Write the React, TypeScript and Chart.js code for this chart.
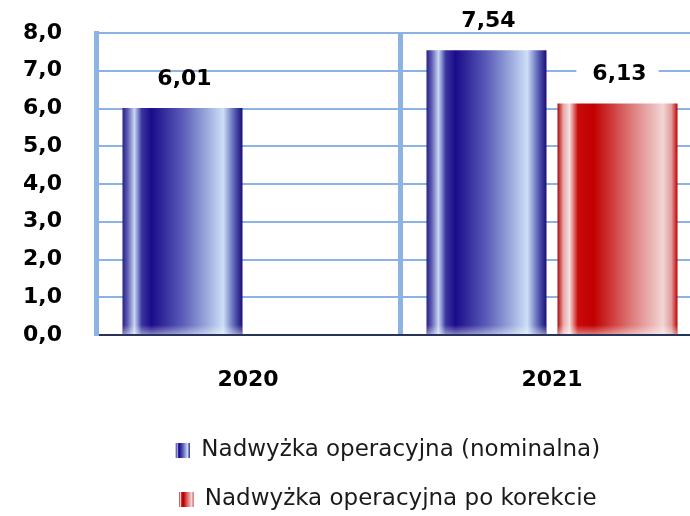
import React, { useEffect, useRef } from 'react';
import { Chart, registerables } from 'chart.js';

Chart.register(...registerables);

// ---- data ----
const categories = ['2020', '2021'];
const nominalValues: (number | null)[] = [6.01, 7.54];
const correctedValues: (number | null)[] = [null, 6.13];
const seriesLabels = ['Nadwyżka operacyjna (nominalna)', 'Nadwyżka operacyjna po korekcie'];
const yMin = 0;
const yMax = 8;
const yStep = 1;

// ---- styles ----
const BLUE_STOPS: [number, string][] = [
  [0, '#2a2080'], [0.04, '#5a58b0'], [0.1, '#c8d6f2'], [0.16, '#3a36a0'], [0.24, '#1a0b8a'],
  [0.5, '#5a5cb8'], [0.7, '#9aa8dc'], [0.84, '#cddff7'], [0.93, '#5a62b4'], [1, '#1a0e78'],
];
const RED_STOPS: [number, string][] = [
  [0, '#b00808'], [0.05, '#e8a8a8'], [0.1, '#f6dede'], [0.17, '#c80a0a'], [0.3, '#c00000'],
  [0.6, '#dc7474'], [0.88, '#f2d6d6'], [0.95, '#e09a9a'], [1, '#c00000'],
];
const GRID = '#8DB3E2';
const FONT = '"DejaVu Sans"';
const CANVAS_W = 776;
const CANVAS_H = 516;

const fmt = (v: number, d: number) => v.toFixed(d).replace('.', ',');

const decorPlugin = {
  id: 'decor',
  beforeDatasetsDraw(chart: any) {
    const ctx = chart.ctx;
    chart.data.datasets.forEach((_ds: any, di: number) => {
      const meta = chart.getDatasetMeta(di);
      const stops = di === 0 ? BLUE_STOPS : RED_STOPS;
      meta.data.forEach((el: any) => {
        const { x, width } = el.getProps(['x', 'width'], true);
        if (!isFinite(x) || !isFinite(width)) return;
        const g = ctx.createLinearGradient(x - width / 2, 0, x + width / 2, 0);
        stops.forEach(([o, c]) => g.addColorStop(o, c));
        el.options = { ...el.options, backgroundColor: g };
      });
    });
  },
  afterDatasetsDraw(chart: any) {
    const ctx = chart.ctx;
    ctx.save();
    chart.data.datasets.forEach((ds: any, di: number) => {
      const meta = chart.getDatasetMeta(di);
      meta.data.forEach((el: any, i: number) => {
        const v = ds.data[i];
        if (v === null || v === undefined) return;
        const { x, y, base, width } = el.getProps(['x', 'y', 'base', 'width'], true);
        // bottom fade
        const fg = ctx.createLinearGradient(0, base - 9, 0, base);
        fg.addColorStop(0, 'rgba(255,255,255,0)');
        fg.addColorStop(1, 'rgba(255,255,255,0.45)');
        ctx.fillStyle = fg;
        ctx.fillRect(x - width / 2, base - 9, width, 9);
        // value label
        const text = fmt(v, 2);
        ctx.font = `bold 22px ${FONT}`;
        ctx.textAlign = 'center';
        ctx.textBaseline = 'middle';
        const ly = y - 29;
        if (di === 1) {
          const tw = ctx.measureText(text).width;
          ctx.fillStyle = '#ffffff';
          ctx.fillRect(x - tw / 2 - 14, ly - 14, tw + 28, 28);
        }
        ctx.fillStyle = '#000000';
        ctx.fillText(text, x + 2, ly);
      });
    });
    ctx.restore();
  },
  afterDraw(chart: any) {
    const legend = chart.legend;
    if (!legend || !legend.legendHitBoxes) return;
    const ctx = chart.ctx;
    const bw = 14;
    const bh = 15;
    legend.legendHitBoxes.forEach((hb: any, i: number) => {
      const stops = i === 0 ? BLUE_STOPS : RED_STOPS;
      const bx = hb.left;
      const by = hb.top + (hb.height - bh) / 2;
      const g = ctx.createLinearGradient(bx, 0, bx + bw, 0);
      stops.forEach(([o, c]) => g.addColorStop(o, c));
      ctx.fillStyle = '#ffffff';
      ctx.fillRect(bx, by, bw, bh);
      ctx.fillStyle = g;
      ctx.fillRect(bx, by, bw, bh);
    });
  },
};

export default function App() {
  const ref = useRef<HTMLCanvasElement | null>(null);

  useEffect(() => {
    if (!ref.current) return;
    Chart.defaults.font.family = FONT;
    const chart = new Chart(ref.current, {
      type: 'bar',
      data: {
        labels: categories,
        datasets: [
          {
            label: seriesLabels[0],
            data: nominalValues,
            backgroundColor: '#3a3aa0',
            borderWidth: 0,
            categoryPercentage: 0.862,
            barPercentage: 0.916,
          },
          {
            label: seriesLabels[1],
            data: correctedValues,
            backgroundColor: '#c00000',
            borderWidth: 0,
            categoryPercentage: 0.862,
            barPercentage: 0.916,
          },
        ],
      },
      options: {
        responsive: false,
        animation: false,
        devicePixelRatio: 1,
        layout: { padding: { left: 23, top: 33, right: 23, bottom: -5 } },
        plugins: {
          legend: {
            position: 'bottom',
            labels: {
              font: { size: 23, family: FONT },
              color: '#1a1a1a',
              boxWidth: 14,
              boxHeight: 15,
              padding: 26,
            },
          },
          tooltip: { enabled: false },
          title: { display: false },
        },
        scales: {
          x: {
            grid: { color: GRID, lineWidth: 5, drawTicks: false, offset: true },
            border: { color: '#26345a', width: 2 },
            ticks: { color: '#000', font: { size: 22, weight: 'bold', family: FONT }, padding: 32 },
            afterFit: (scale: any) => {
              scale.height = 78;
            },
          },
          y: {
            min: yMin,
            max: yMax,
            grid: {
              color: (c: any) => (c.tick && c.tick.value === 0 ? 'rgba(0,0,0,0)' : GRID),
              lineWidth: 2,
              drawTicks: false,
            },
            border: { color: GRID, width: 5 },
            ticks: {
              stepSize: yStep,
              color: '#000',
              font: { size: 22, weight: 'bold', family: FONT },
              padding: 34,
              callback: (v: any) => fmt(Number(v), 1),
            },
            afterFit: (scale: any) => {
              scale.width = 73;
              scale.paddingTop = 0;
              scale.paddingBottom = 0;
            },
          },
          yRight: {
            type: 'linear',
            position: 'right',
            display: true,
            grid: { display: false, drawTicks: false },
            border: { display: false },
            ticks: { display: false },
            afterFit: (scale: any) => {
              scale.width = 49;
              scale.paddingTop = 0;
              scale.paddingBottom = 0;
            },
          },
        },
      },
      plugins: [decorPlugin],
    });
    return () => chart.destroy();
  }, []);

  return (
    <div style={{ position: 'fixed', left: 0, top: 0, width: 690, height: 516, overflow: 'hidden', background: '#fff' }}>
      <canvas ref={ref} width={CANVAS_W} height={CANVAS_H} style={{ width: CANVAS_W, height: CANVAS_H, display: 'block' }} />
    </div>
  );
}
